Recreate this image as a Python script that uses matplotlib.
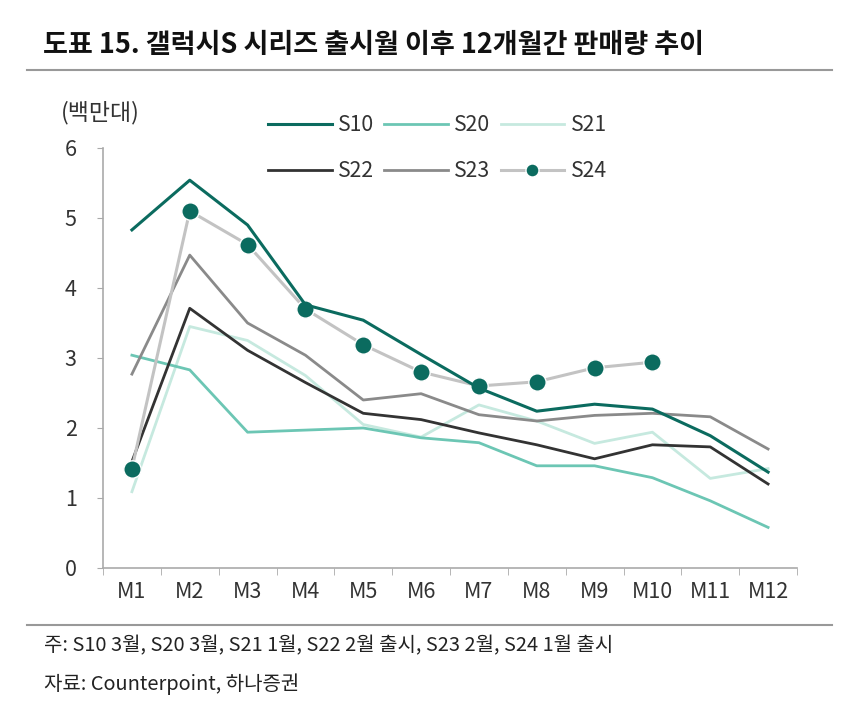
import matplotlib
matplotlib.use("Agg")
import matplotlib.pyplot as plt
from matplotlib.lines import Line2D

plt.rcParams['font.family'] = ['Noto Sans CJK KR', 'DejaVu Sans']

months = ["M1", "M2", "M3", "M4", "M5", "M6", "M7", "M8", "M9", "M10", "M11", "M12"]
s10 = [4.83, 5.54, 4.90, 3.76, 3.54, 3.05, 2.57, 2.24, 2.34, 2.27, 1.89, 1.37]
s20 = [3.04, 2.83, 1.94, 1.97, 2.00, 1.86, 1.79, 1.46, 1.46, 1.29, 0.96, 0.58]
s21 = [1.09, 3.45, 3.25, 2.75, 2.05, 1.87, 2.33, 2.10, 1.78, 1.94, 1.28, 1.42]
s22 = [1.52, 3.71, 3.11, 2.65, 2.21, 2.12, 1.93, 1.76, 1.56, 1.76, 1.73, 1.20]
s23 = [2.77, 4.47, 3.50, 3.04, 2.40, 2.49, 2.19, 2.10, 2.18, 2.21, 2.16, 1.70]
s24 = [1.42, 5.10, 4.62, 3.70, 3.19, 2.80, 2.60, 2.66, 2.86, 2.94]
yticks = [0, 1, 2, 3, 4, 5, 6]

c10 = "#0b6b5f"
c20 = "#6cc6b4"
c21 = "#c6e9df"
c22 = "#333333"
c23 = "#8a8a8a"
c24 = "#c3c3c3"

fig = plt.figure(figsize=(8.5, 7.26), dpi=100)
ax = fig.add_axes([103/850, 1-568/726, 694/850, 420/726])

x = list(range(len(months)))
h21, = ax.plot(x, s21, color=c21, lw=2.0, label="S21")
h20, = ax.plot(x, s20, color=c20, lw=2.0, label="S20")
h23, = ax.plot(x, s23, color=c23, lw=2.0, label="S23")
h22, = ax.plot(x, s22, color=c22, lw=2.0, label="S22")
h24, = ax.plot(x[:len(s24)], s24, color=c24, lw=2.2, marker='o', markersize=12.5,
               markerfacecolor=c10, markeredgecolor='white', markeredgewidth=1.0, label="S24")
h10, = ax.plot(x, s10, color=c10, lw=2.2, label="S10")

ax.set_xlim(-0.5, len(months) - 0.5)
ax.set_ylim(0, 6)
ax.set_yticks(yticks)
ax.set_yticklabels([str(v) for v in yticks], fontsize=15.5, color="#333333")
ax.set_xticks(x)
ax.set_xticklabels(months, fontsize=15.5, color="#333333")
ax.set_xticks([i - 0.5 for i in range(len(months) + 1)], minor=True)
ax.tick_params(axis='x', which='major', length=0, pad=9)
ax.tick_params(axis='x', which='minor', length=5, color="#aaaaaa", direction='out')
ax.tick_params(axis='y', length=4, color="#aaaaaa", pad=15)
for s in ['top', 'right']:
    ax.spines[s].set_visible(False)
for s in ['left', 'bottom']:
    ax.spines[s].set_color("#aaaaaa")
    ax.spines[s].set_linewidth(1.2)
ax.spines['left'].set_bounds(0, 6)

# legend: row1 S10 S20 S21, row2 S22 S23 S24 (column-major fill)
leg = ax.legend([h10, h22, h20, h23, h21, h24], ["S10", "S22", "S20", "S23", "S21", "S24"],
                ncol=3, frameon=False, fontsize=15.3, handlelength=3.0, handletextpad=0.3,
                columnspacing=0.47, labelspacing=1.15, markerscale=0.75,
                loc='upper left', bbox_to_anchor=(268/850, 1-114/726), bbox_transform=fig.transFigure,
                borderaxespad=0, borderpad=0)
for t in leg.get_texts():
    t.set_color("#333333")

# titles and notes
fig.text(43/850, 1-45/726, "도표 15. 갤럭시S 시리즈 출시월 이후 12개월간 판매량 추이",
         fontsize=19.5, fontweight='bold', va='center', ha='left', color="#111111")
fig.add_artist(Line2D([27/850, 832/850], [1-70/726, 1-70/726], color="#999999", lw=1.5))
fig.text(61/850, 1-113/726, "(백만대)", fontsize=16.5, va='center', ha='left', color="#333333")
fig.add_artist(Line2D([27/850, 832/850], [1-625/726, 1-625/726], color="#999999", lw=1.5))
fig.text(44/850, 1-646/726, "주: S10 3월, S20 3월, S21 1월, S22 2월 출시, S23 2월, S24 1월 출시",
         fontsize=14.4, va='center', ha='left', color="#222222")
fig.text(44/850, 1-684/726, "자료: Counterpoint, 하나증권",
         fontsize=14.4, va='center', ha='left', color="#222222")

fig.savefig("out.png", dpi=100, facecolor='white')
